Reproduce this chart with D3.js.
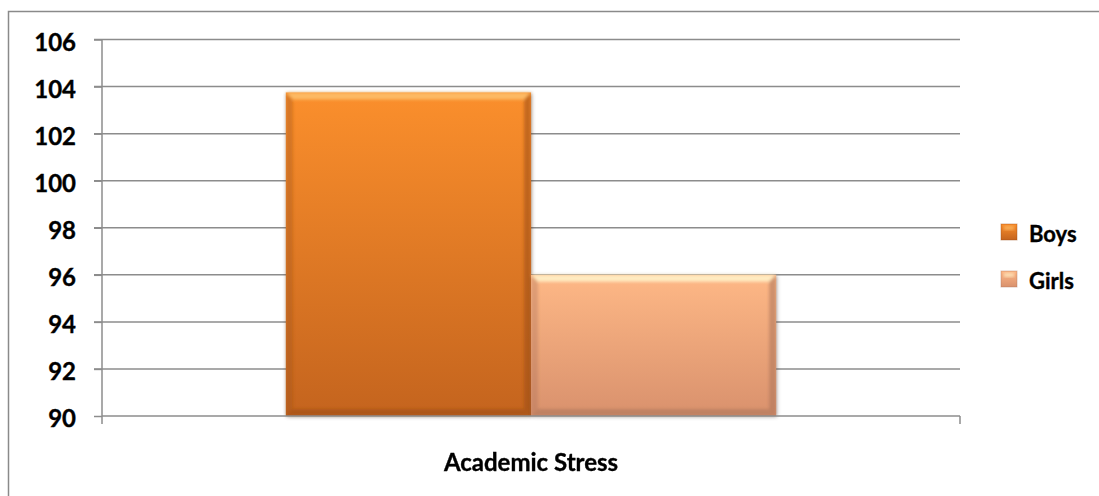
<!DOCTYPE html>
<html>
<head>
<meta charset="utf-8">
<script src="https://cdn.jsdelivr.net/npm/d3@7"></script>
<style>
  html, body { margin: 0; padding: 0; background: #fff; }
  svg { display: block; }
  text { font-family: Lato, "Open Sans", "Liberation Sans", sans-serif; font-weight: 700; fill: #000; stroke: #000; stroke-width: 0.35px; }
</style>
</head>
<body>
<svg id="chart" width="1099" height="496"></svg>
<script>
// Chart data
const categories = ["Academic Stress"];
const seriesNames = ["Boys", "Girls"];
const boysValues = [103.75];
const girlsValues = [96];
const yTicks = [90, 92, 94, 96, 98, 100, 102, 104, 106];

const seriesValues = { Boys: boysValues, Girls: girlsValues };
const palette = {
  Boys:  { top: "#fb8f2c", bottom: "#c4641e", light: "#fdbf6a", dark: "#9a4c14" },
  Girls: { top: "#feb886", bottom: "#d9916d", light: "#fff1c8", dark: "#a9725a" }
};

const W = 1099, H = 496;
const plot = { left: 102, right: 960, top: 39.5, bottom: 416 };

const svg = d3.select("#chart");
const defs = svg.append("defs");

// Vertical fill gradients per series
seriesNames.forEach(s => {
  const g = defs.append("linearGradient").attr("id", "fill-" + s)
    .attr("x1", 0).attr("y1", 0).attr("x2", 0).attr("y2", 1);
  g.append("stop").attr("offset", "0%").attr("stop-color", palette[s].top);
  g.append("stop").attr("offset", "100%").attr("stop-color", palette[s].bottom);
});
const blur = defs.append("filter").attr("id", "soft").attr("x", "-10%").attr("y", "-10%").attr("width", "120%").attr("height", "120%");
blur.append("feGaussianBlur").attr("stdDeviation", 1.6);
const shadow = defs.append("filter").attr("id", "shadow").attr("x", "-10%").attr("y", "-10%").attr("width", "120%").attr("height", "120%");
shadow.append("feGaussianBlur").attr("stdDeviation", 2);

// Outer chart border
svg.append("rect")
  .attr("x", 8.5).attr("y", 11.5).attr("width", W + 10).attr("height", H + 10)
  .attr("fill", "none").attr("stroke", "#8a8a8a").attr("stroke-width", 1.5);

// Scales
const y = d3.scaleLinear().domain([90, 106]).range([plot.bottom, plot.top]);
const x0 = d3.scaleBand().domain(categories).range([plot.left, plot.right])
  .paddingInner(0).paddingOuter(0.375);
const x1 = d3.scaleBand().domain(seriesNames).range([0, x0.bandwidth()]).padding(0);

// Horizontal gridlines (with outward tick stubs on the left)
svg.append("g").selectAll("line").data(yTicks.filter(t => t !== 90)).join("line")
  .attr("x1", plot.left - 8).attr("x2", plot.right)
  .attr("y1", d => y(d)).attr("y2", d => y(d))
  .attr("stroke", "#8c8c8c").attr("stroke-width", 1.5);

// Y axis
const yAxis = d3.axisLeft(y).tickValues(yTicks).tickSize(8).tickPadding(18);
const yg = svg.append("g").attr("transform", `translate(${plot.left},0)`).call(yAxis);
yg.attr("font-family", null).attr("font-size", null);
yg.select(".domain").remove();
yg.selectAll(".tick line").attr("stroke", "#8c8c8c").attr("stroke-width", 1.5);
yg.selectAll(".tick text").attr("font-size", 24).attr("dy", "0.44em").attr("fill", "#000");
svg.append("line")
  .attr("x1", plot.left).attr("x2", plot.left)
  .attr("y1", plot.top).attr("y2", plot.bottom + 8)
  .attr("stroke", "#8c8c8c").attr("stroke-width", 1.5);

// Bars with bevelled edges
const barData = [];
categories.forEach((c, i) => {
  seriesNames.forEach(s => barData.push({ cat: c, series: s, value: seriesValues[s][i] }));
});

const bars = svg.append("g");
barData.forEach(d => {
  const bx = x0(d.cat) + x1(d.series);
  const bw = x1.bandwidth();
  const by = y(d.value);
  const bh = y(90) - by;
  const p = palette[d.series];
  const b = 7;
  const g = bars.append("g");
  // soft shadow behind
  g.append("rect").attr("x", bx + 1).attr("y", by + 1).attr("width", bw).attr("height", bh)
    .attr("fill", "#000").attr("opacity", 0.25).attr("filter", "url(#shadow)");
  g.append("rect").attr("x", bx).attr("y", by).attr("width", bw).attr("height", bh)
    .attr("fill", `url(#fill-${d.series})`);
  const bev = g.append("g").attr("filter", "url(#soft)");
  // top bevel (highlight)
  bev.append("polygon")
    .attr("points", [[bx, by], [bx + bw, by], [bx + bw - b, by + b], [bx + b, by + b]].join(" "))
    .attr("fill", p.light).attr("opacity", 0.9);
  // left bevel
  bev.append("polygon")
    .attr("points", [[bx, by], [bx + b, by + b], [bx + b, by + bh - b], [bx, by + bh]].join(" "))
    .attr("fill", p.dark).attr("opacity", 0.35);
  // right bevel
  bev.append("polygon")
    .attr("points", [[bx + bw, by], [bx + bw, by + bh], [bx + bw - b, by + bh - b], [bx + bw - b, by + b]].join(" "))
    .attr("fill", p.dark).attr("opacity", 0.55);
  // bottom bevel
  bev.append("polygon")
    .attr("points", [[bx, by + bh], [bx + b, by + bh - b], [bx + bw - b, by + bh - b], [bx + bw, by + bh]].join(" "))
    .attr("fill", p.dark).attr("opacity", 0.55);
});

// X axis line and category ticks
svg.append("line")
  .attr("x1", plot.left).attr("x2", plot.right)
  .attr("y1", plot.bottom).attr("y2", plot.bottom)
  .attr("stroke", "#8c8c8c").attr("stroke-width", 1.5);
const xAxis = d3.axisBottom(x0).tickSize(0).tickPadding(38);
const xg = svg.append("g").attr("transform", `translate(0,${plot.bottom})`).call(xAxis);
xg.attr("font-family", null).attr("font-size", null);
xg.select(".domain").remove();
xg.selectAll(".tick text").attr("font-size", 24).attr("fill", "#000");
svg.append("line")
  .attr("x1", plot.right).attr("x2", plot.right)
  .attr("y1", plot.bottom).attr("y2", plot.bottom + 8)
  .attr("stroke", "#8c8c8c").attr("stroke-width", 1.5);

// Legend
const legend = svg.append("g").attr("transform", "translate(1001,224)");
const li = legend.selectAll("g").data(seriesNames).join("g")
  .attr("transform", (d, i) => `translate(0,${i * 47})`);
li.append("rect").attr("width", 16).attr("height", 16)
  .attr("fill", d => `url(#fill-${d})`).attr("stroke", d => palette[d].dark).attr("stroke-opacity", 0.4);
li.append("rect").attr("x", 3).attr("y", 2).attr("width", 10).attr("height", 4)
  .attr("fill", d => palette[d].light).attr("opacity", 0.7).attr("filter", "url(#soft)");
li.append("text").attr("x", 28).attr("y", 10).attr("dy", "0.36em")
  .attr("font-size", 22).text(d => d);
</script>
</body>
</html>
